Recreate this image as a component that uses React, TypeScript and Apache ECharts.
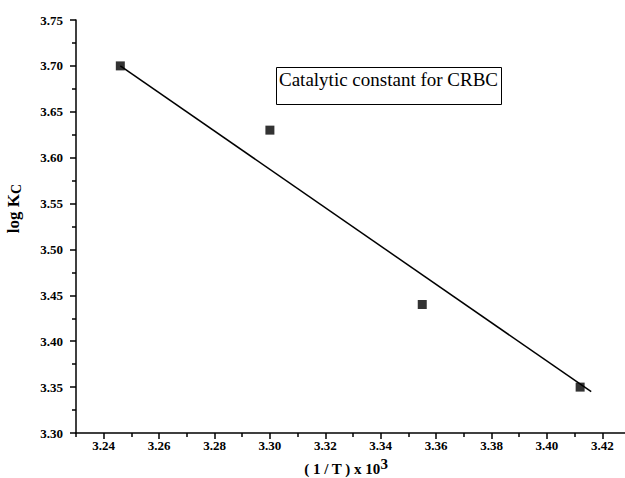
import React, { useEffect, useRef } from "react";
import * as echarts from "echarts";

const xMajorTicks = [3.24, 3.26, 3.28, 3.3, 3.32, 3.34, 3.36, 3.38, 3.4, 3.42];
const xMinorTicks = [3.23, 3.25, 3.27, 3.29, 3.31, 3.33, 3.35, 3.37, 3.39, 3.41, 3.43];
const inverseT = [3.246, 3.3, 3.355, 3.412];
const logKc = [3.7, 3.63, 3.44, 3.35];
const fitX = [3.246, 3.416];
const fitY = [3.7, 3.345];
const annotation = "Catalytic constant for CRBC";

const FONT = "Liberation Serif";

export default function App() {
  const ref = useRef<HTMLDivElement>(null);
  useEffect(() => {
    if (!ref.current) return;
    const chart = echarts.init(ref.current, null, { renderer: "svg" });
    const axisLine = { show: true, lineStyle: { color: "#000", width: 1.5 } };
    chart.setOption({
      animation: false,
      backgroundColor: "#fff",
      grid: { left: 76, top: 20, right: -5, bottom: 45, containLabel: false, outerBoundsMode: "none" },
      xAxis: [
        {
          type: "value",
          min: 3.23,
          max: 3.43,
          interval: 0.01,
          position: "bottom",
          axisLine,
          splitLine: { show: false },
          axisTick: {
            show: true,
            length: 6,
            customValues: xMajorTicks,
            lineStyle: { color: "#000", width: 1.5 },
          },
          axisLabel: {
            customValues: xMajorTicks,
            formatter: (v: number) => v.toFixed(2),
            color: "#000",
            fontFamily: FONT,
            fontWeight: "bold",
            fontSize: 13,
            margin: 6,
          },
          name: "{b|( 1 / T ) x 10}{sup|3}",
          nameLocation: "middle",
          nameGap: 25,
          nameTextStyle: {
            padding: [0, 14, 0, 0],
            rich: {
              b: { fontFamily: FONT, fontWeight: "bold", fontSize: 15, color: "#000", lineHeight: 18, padding: [4, 0, 0, 0] },
              sup: { fontFamily: FONT, fontWeight: "bold", fontSize: 15, color: "#000", padding: [0, 0, 6, 0], lineHeight: 18 },
            },
          },
        },
        {
          type: "value",
          min: 3.23,
          max: 3.43,
          interval: 0.01,
          position: "bottom",
          axisLine: { show: false },
          splitLine: { show: false },
          axisLabel: { show: false },
          axisTick: {
            show: true,
            length: 4,
            customValues: xMinorTicks,
            lineStyle: { color: "#000", width: 1.5 },
          },
        },
      ],
      yAxis: {
        type: "value",
        min: 3.3,
        max: 3.75,
        interval: 0.05,
        axisLine,
        splitLine: { show: false },
        axisTick: { show: true, length: 6, lineStyle: { color: "#000", width: 1.5 } },
        minorTick: { show: true, splitNumber: 2, length: 4, lineStyle: { color: "#000", width: 1.5 } },
        minorSplitLine: { show: false },
        axisLabel: {
          formatter: (v: number) => v.toFixed(2),
          color: "#000",
          fontFamily: FONT,
          fontWeight: "bold",
          fontSize: 13,
          margin: 13,
        },
        name: "{b|log K}{sub|C}",
        nameLocation: "middle",
        nameGap: 52,
        nameTextStyle: {
          padding: [0, 0, 0, 36],
          rich: {
            b: { fontFamily: FONT, fontWeight: "bold", fontSize: 17, color: "#000", lineHeight: 22 },
            sub: { fontFamily: FONT, fontWeight: "bold", fontSize: 14, color: "#000", padding: [6, 0, 0, 0], lineHeight: 22 },
          },
        },
      },
      graphic: [
        {
          type: "rect",
          shape: { x: 276.5, y: 67.5, width: 225, height: 37 },
          style: { fill: "#fff", stroke: "#000", lineWidth: 1 },
          z: 10,
        },
        {
          type: "text",
          x: 279,
          y: 70,
          style: {
            text: annotation,
            fontFamily: FONT,
            fontSize: 19,
            fill: "#000",
            textVerticalAlign: "top",
          },
          z: 11,
        },
      ],
      series: [
        {
          type: "line",
          data: fitX.map((x, i) => [x, fitY[i]]),
          showSymbol: false,
          symbol: "none",
          lineStyle: { color: "#000", width: 1.5 },
          z: 2,
        },
        {
          type: "scatter",
          data: inverseT.map((x, i) => [x, logKc[i]]),
          symbol: "rect",
          symbolSize: 9,
          itemStyle: { color: "#000" },
          z: 3,
        },
      ],
    });
    return () => chart.dispose();
  }, []);
  return <div ref={ref} style={{ width: 625, height: 478, position: "absolute", left: 0, top: 0 }} />;
}
